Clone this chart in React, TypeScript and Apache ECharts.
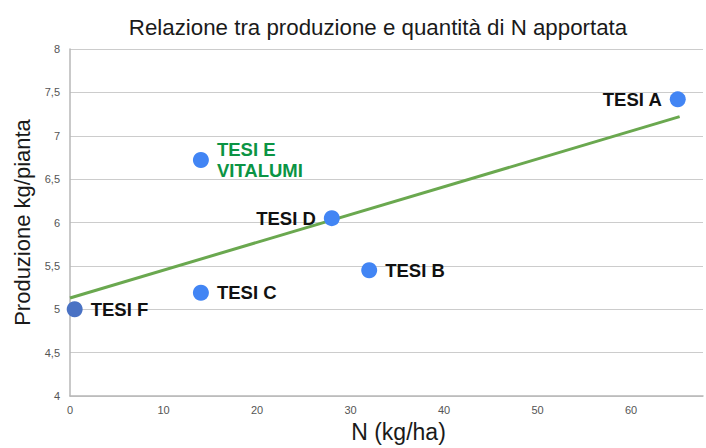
import React, { useEffect, useRef } from "react";
import * as echarts from "echarts";

const titleText = "Relazione tra produzione e quantità di N apportata";
const pointNames = ["TESI A", "TESI B", "TESI C", "TESI D", "TESI E\nVITALUMI", "TESI F"];
const nValues = [65, 32, 14, 28, 14, 0.5];
const prodValues = [7.42, 5.45, 5.19, 6.05, 6.72, 5.0];
const labelSides = ["left", "right", "right", "left", "right", "right"];
const trendX = [0, 65.2];
const trendY = [5.13, 7.22];

const FONT = "Liberation Sans, Arial, sans-serif";

export default function App() {
  const ref = useRef<HTMLDivElement>(null);
  useEffect(() => {
    if (!ref.current) return;
    const chart = echarts.init(ref.current, null, { renderer: "svg" });
    const scatterData = pointNames.map((name, i) => ({
      name,
      value: [nValues[i], prodValues[i]],
      itemStyle: { color: i === 5 ? "#4a72c4" : "#4285f4", opacity: 1 },
      label: {
        show: true,
        position: labelSides[i],
        distance: 8,
        formatter: name,
        color: i === 4 ? "#0b9444" : "#111111",
        fontSize: 18.5,
        fontWeight: "bold",
        lineHeight: 21,
        fontFamily: FONT,
      },
    }));
    chart.setOption({
      animation: false,
      backgroundColor: "#ffffff",
      title: {
        text: titleText,
        left: 373,
        top: 11,
        textAlign: "center",
        textStyle: {
          fontSize: 22.3,
          fontWeight: "normal",
          color: "#1a1a1a",
          fontFamily: FONT,
        },
      },
      grid: { left: 70, right: 0, top: 49, bottom: 49, containLabel: false },
      xAxis: {
        type: "value",
        min: 0,
        max: 67.7,
        interval: 10,
        name: "N (kg/ha)",
        nameLocation: "middle",
        nameGap: 24,
        nameTextStyle: {
          fontSize: 23,
          color: "#1a1a1a",
          padding: [0, 0, 0, 24],
          fontFamily: FONT,
        },
        axisLine: { show: true, lineStyle: { color: "#b7b7b7", width: 1.5 } },
        axisTick: { show: false },
        splitLine: { show: false },
        axisLabel: {
          margin: 8,
          fontSize: 11,
          color: "#555555",
          fontFamily: FONT,
          formatter: (v: number) => (v % 10 === 0 ? String(v) : ""),
        },
      },
      yAxis: {
        type: "value",
        min: 4,
        max: 8,
        interval: 0.5,
        name: "Produzione kg/pianta",
        nameLocation: "middle",
        nameGap: 27,
        nameTextStyle: {
          fontSize: 22,
          color: "#1a1a1a",
          fontFamily: FONT,
        },
        axisLine: { show: true, lineStyle: { color: "#b7b7b7", width: 1.5 } },
        axisTick: { show: false },
        splitLine: { show: true, lineStyle: { color: "#cccccc", width: 1 } },
        axisLabel: {
          margin: 10,
          fontSize: 11,
          color: "#555555",
          fontFamily: FONT,
          formatter: (v: number) => String(v).replace(".", ","),
        },
      },
      series: [
        {
          type: "line",
          data: trendX.map((x, i) => [x, trendY[i]]),
          symbol: "none",
          lineStyle: { color: "#6aa84f", width: 3 },
          z: 2,
        },
        {
          type: "scatter",
          data: scatterData,
          symbolSize: 16,
          z: 3,
        },
      ],
    });
    return () => chart.dispose();
  }, []);
  return (
    <div
      ref={ref}
      style={{ position: "absolute", left: 0, top: 0, width: 706, height: 448 }}
    />
  );
}
